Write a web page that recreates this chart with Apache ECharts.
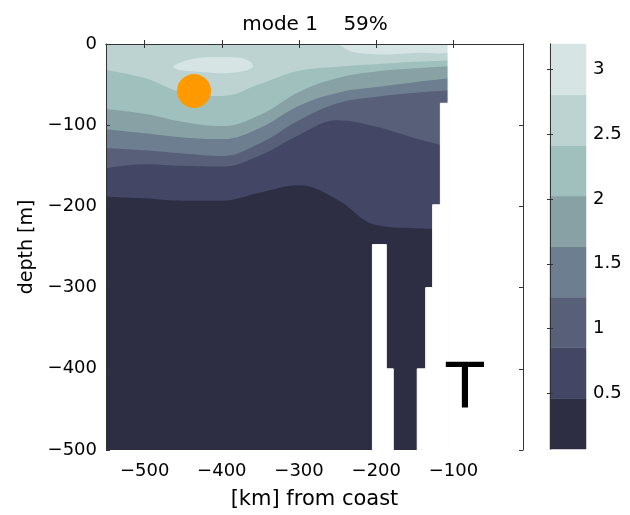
<!DOCTYPE html>
<html>
<head>
<meta charset="utf-8">
<script src="https://cdn.jsdelivr.net/npm/echarts@6/dist/echarts.min.js"></script>
<style>
  html, body { margin: 0; padding: 0; background: #ffffff; }
  #chart { width: 630px; height: 515px; }
</style>
</head>
<body>
<div id="chart"></div>
<script>
// ---- data ----
const titleText = 'mode 1    59%';
const xTicks = [-500, -400, -300, -200, -100];
const yTicks = [0, -100, -200, -300, -400, -500];
const cbTicks = [0.5, 1, 1.5, 2, 2.5, 3];
// contour levels (colour-band edges)
const levels = [0.072, 0.462, 0.852, 1.242, 1.632, 2.022, 2.412, 2.802, 3.195];
// distance from coast [km] of the sampled contour depths
const xKm = [-550, -500, -450, -400, -350, -300, -250, -200, -150, -100];
// depth [m] of each contour line along xKm
const depth241 = [-32, -42, -60, -64, -49, -33, -28, -25, -22, -20];
const depth202 = [-80, -86, -96, -101, -87, -59, -42, -34, -30, -27];
const depth163 = [-105, -110, -115, -117, -103, -76, -60, -53, -47, -42];
const depth124 = [-128, -131, -135, -138, -122, -94, -73, -65, -60, -57];
const depth085 = [-153, -148, -150, -151, -137, -112, -94, -102, -116, -128];
const depth046 = [-188, -190, -193, -193, -183, -174, -192, -223, -227, -228];
// warm patches (> 2.80): outline points [km, m]
const warmBlob = [[-463, -28], [-448, -21], [-428, -17], [-402, -16], [-376, -17], [-363, -22],
                  [-360, -28], [-370, -33], [-398, -36], [-435, -34], [-454, -32]];
const warmStrip = [[-247, 0], [-100, 0], [-100, -10], [-150, -11], [-195, -13], [-230, -10], [-243, -4]];
// bottom / no-data mask: [x from, x to, top depth]
const maskRects = [[-205, -187, -247], [-187, -178, -400], [-147, -136, -400], [-136, -127, -300],
                   [-127, -117, -198], [-117, -107, -73], [-107, -10, 0]];
// marker
const marker = [[-436, -58]];

// ---- styles ----
const bandColors = ['#2d2d43', '#434665', '#586079', '#6c7e8f', '#87a1a4', '#9fc0bc', '#bcd3d2', '#d6e4e4'];
const FONT = 'DejaVu Sans';
const minus = v => (v < 0 ? '\u2212' + Math.abs(v) : String(v));

const contourLines = [depth241, depth202, depth163, depth124, depth085, depth046];
const series = [];
contourLines.forEach((arr, i) => {
  series.push({
    type: 'line',
    xAxisIndex: 0, yAxisIndex: 0,
    data: xKm.map((x, j) => [x, arr[j]]),
    smooth: 0.4,
    symbol: 'none',
    lineStyle: { width: 0 },
    areaStyle: { color: bandColors[5 - i], opacity: 1, origin: 'start' },
    silent: true,
    z: 2 + i
  });
});
function polySeries(pts, color, z) {
  return {
    type: 'custom', xAxisIndex: 0, yAxisIndex: 0,
    data: [pts[0]], encode: { x: 0, y: 1 },
    clip: true, silent: true, z: z,
    renderItem: (params, api) => ({
      type: 'polygon',
      shape: { points: pts.map(p => api.coord(p)), smooth: 0.35 },
      style: { fill: color }
    })
  };
}
series.push(polySeries(warmBlob, bandColors[7], 10));
series.push(polySeries(warmStrip, bandColors[7], 10));
series.push({
  type: 'custom', xAxisIndex: 0, yAxisIndex: 0,
  data: maskRects, encode: { x: [0, 1], y: 2 },
  clip: true, silent: true, z: 11,
  renderItem: (params, api) => {
    const p0 = api.coord([api.value(0), api.value(2)]);
    const p1 = api.coord([api.value(1), -500]);
    return { type: 'rect', shape: { x: p0[0], y: p0[1], width: p1[0] - p0[0], height: p1[1] - p0[1] },
             style: { fill: '#ffffff', stroke: '#ffffff', lineWidth: 1 } };
  }
});
series.push({
  type: 'scatter', xAxisIndex: 0, yAxisIndex: 0,
  data: marker, symbol: 'circle', symbolSize: 34,
  itemStyle: { color: '#ff9900', opacity: 1 }, silent: true, z: 12
});
// colour bar
series.push({
  type: 'custom', xAxisIndex: 2, yAxisIndex: 2,
  data: levels.slice(0, -1).map((lo, i) => [0, lo, levels[i + 1], i]),
  encode: { x: 0, y: [1, 2] }, silent: true, z: 2,
  renderItem: (params, api) => {
    const p0 = api.coord([0, api.value(2)]);
    const p1 = api.coord([1, api.value(1)]);
    return { type: 'rect', shape: { x: p0[0], y: p0[1], width: p1[0] - p0[0], height: p1[1] - p0[1] },
             style: { fill: bandColors[api.value(3)], stroke: bandColors[api.value(3)], lineWidth: 0.5 } };
  }
});

const axisLine = { show: true, lineStyle: { color: '#333', width: 1 } };
const tickStyle = { inside: true, length: 4, lineStyle: { color: '#333', width: 1 } };
const labelStyle = { color: '#000', fontFamily: FONT, fontSize: 18 };

const option = {
  animation: false,
  backgroundColor: '#ffffff',
  title: {
    text: titleText, left: 'center', top: 10,
    textStyle: { fontFamily: FONT, fontSize: 20, fontWeight: 'normal', color: '#000' }
  },
  grid: [
    { left: 106, top: 44, width: 417, height: 406, show: true, backgroundColor: bandColors[6], borderWidth: 0 },
    { left: 550, top: 44, width: 36, height: 405 }
  ],
  xAxis: [
    { type: 'value', gridIndex: 0, min: -550, max: -10, position: 'bottom',
      axisLine, splitLine: { show: false },
      axisTick: Object.assign({ customValues: xTicks }, tickStyle),
      axisLabel: Object.assign({ customValues: xTicks, formatter: minus, margin: 12 }, labelStyle),
      name: '[km] from coast', nameLocation: 'middle', nameGap: 39,
      nameTextStyle: { fontFamily: FONT, fontSize: 21, color: '#000' }, z: 20 },
    { type: 'value', gridIndex: 0, min: -550, max: -10, position: 'top',
      axisLine, splitLine: { show: false },
      axisTick: Object.assign({ customValues: xTicks }, tickStyle),
      axisLabel: { show: false }, z: 20 },
    { type: 'value', gridIndex: 1, min: 0, max: 1, show: false }
  ],
  yAxis: [
    { type: 'value', gridIndex: 0, min: -500, max: 0, interval: 100, position: 'left',
      axisLine, splitLine: { show: false }, axisTick: tickStyle,
      axisLabel: Object.assign({ formatter: minus, margin: 9 }, labelStyle),
      name: 'depth [m]', nameLocation: 'middle', nameGap: 66, nameRotate: 90,
      nameTextStyle: { fontFamily: FONT, fontSize: 19, color: '#000' }, z: 20 },
    { type: 'value', gridIndex: 0, min: -500, max: 0, interval: 100, position: 'right',
      axisLine, splitLine: { show: false }, axisTick: tickStyle,
      axisLabel: { show: false }, z: 20 },
    { type: 'value', gridIndex: 1, min: levels[0], max: levels[levels.length - 1], position: 'right',
      axisLine, splitLine: { show: false },
      axisTick: Object.assign({ customValues: cbTicks }, tickStyle, { length: 3 }),
      axisLabel: Object.assign({ customValues: cbTicks, margin: 7, formatter: v => String(v) }, labelStyle), z: 20 },
    { type: 'value', gridIndex: 1, min: levels[0], max: levels[levels.length - 1], position: 'left',
      axisLine, splitLine: { show: false },
      axisTick: Object.assign({ customValues: cbTicks }, tickStyle, { length: 3 }),
      axisLabel: { show: false }, z: 20 }
  ],
  graphic: [
    { type: 'text', left: 446, top: 360, z: 100,
      style: { text: 'T', fontFamily: FONT, fontSize: 62, fill: '#000' } }
  ],
  series: series
};

const chart = echarts.init(document.getElementById('chart'), null, { renderer: 'canvas' });
chart.setOption(option);
</script>
</body>
</html>
